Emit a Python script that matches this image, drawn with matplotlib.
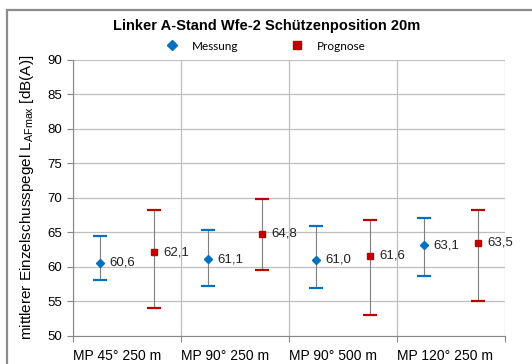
import matplotlib
matplotlib.use('Agg')
import matplotlib.pyplot as plt
from matplotlib.patches import Rectangle
from matplotlib.lines import Line2D

plt.rcParams['font.family'] = ['Liberation Sans', 'DejaVu Sans']

categories = ['MP 45° 250 m', 'MP 90° 250 m', 'MP 90° 500 m', 'MP 120° 250 m']
mess_mean = [60.6, 61.1, 61.0, 63.1]
mess_lo = [58.1, 57.25, 56.9, 58.65]
mess_hi = [64.4, 65.4, 65.85, 67.1]
prog_mean = [62.1, 64.8, 61.6, 63.5]
prog_lo = [54.1, 59.55, 53.1, 55.1]
prog_hi = [68.3, 69.8, 66.8, 68.3]
mess_labels = ['60,6', '61,1', '61,0', '63,1']
prog_labels = ['62,1', '64,8', '61,6', '63,5']

blue = '#0070C0'
red = '#C00000'
grey = '#7f7f7f'

fig = plt.figure(figsize=(5.32, 3.64), dpi=100)
ax = fig.add_axes([73/532, 1-336/364, (505-73)/532, (336-59.5)/364])

n = len(categories)
xm = [i - 0.25 for i in range(n)]
xp = [i + 0.25 for i in range(n)]

# whiskers: grey stems, coloured caps
ax.vlines(xm, mess_lo, mess_hi, color=grey, lw=0.8, zorder=3)
ax.vlines(xp, prog_lo, prog_hi, color=grey, lw=0.8, zorder=3)
ax.plot(xm, mess_lo, '_', ms=10, mew=1.6, color=blue, zorder=4)
ax.plot(xm, mess_hi, '_', ms=10, mew=1.6, color=blue, zorder=4)
ax.plot(xp, prog_lo, '_', ms=10, mew=1.6, color=red, zorder=4)
ax.plot(xp, prog_hi, '_', ms=10, mew=1.6, color=red, zorder=4)
ax.plot(xm, mess_mean, 'D', ms=3.8, color=blue, ls='none', zorder=5)
ax.plot(xp, prog_mean, 's', ms=4, color=red, ls='none', zorder=5)

for x, y, t in zip(xm, mess_mean, mess_labels):
    ax.annotate(t, (x, y), xytext=(7, 0), textcoords='offset points',
                va='center', ha='left', fontsize=9.5, color='#222222')
for x, y, t in zip(xp, prog_mean, prog_labels):
    ax.annotate(t, (x, y), xytext=(7, 0), textcoords='offset points',
                va='center', ha='left', fontsize=9.5, color='#222222')

ax.set_xlim(-0.5, n - 0.5)
ax.set_ylim(50, 90)
ax.set_yticks(range(50, 91, 5))
ax.set_xticks([i - 0.5 for i in range(n + 1)])
ax.set_xticklabels(categories + [''], ha='left')
ax.tick_params(axis='x', length=4, color='#868686', pad=5, labelsize=10)
ax.tick_params(axis='y', length=4, color='#868686', pad=4, labelsize=9.5)
ax.grid(True, color='#bfbfbf', lw=0.9)
ax.set_axisbelow(True)
for s in ['top', 'right']:
    ax.spines[s].set_visible(False)
ax.spines['left'].set_color('#868686')
ax.spines['bottom'].set_color('#868686')

ax.set_ylabel(r'mittlerer Einzelschusspegel L$_{\mathregular{AFmax}}$ [dB(A)]',
              fontsize=11, labelpad=8)

fig.text(267/532, 1-26/364, 'Linker A-Stand Wfe-2 Schützenposition 20m',
         ha='center', va='center', fontsize=10.5, fontweight='bold')

handles = [Line2D([], [], marker='D', color=blue, ls='none', ms=5.5),
           Line2D([], [], marker='s', color=red, ls='none', ms=5.5)]
fig.legend(handles, ['Messung', 'Prognose'], loc='center',
           bbox_to_anchor=(266/532, 1-46/364), ncol=2, frameon=False,
           prop={'family': 'Lato', 'size': 8.5},
           handletextpad=1.2, columnspacing=4.5, handlelength=1)

fig.patches.append(Rectangle((7/532, -0.1), 1.2, 1-10/364+0.1,
                             transform=fig.transFigure, fill=False,
                             edgecolor='#8c8c8c', lw=1.6))

fig.savefig('out.png', dpi=100)
